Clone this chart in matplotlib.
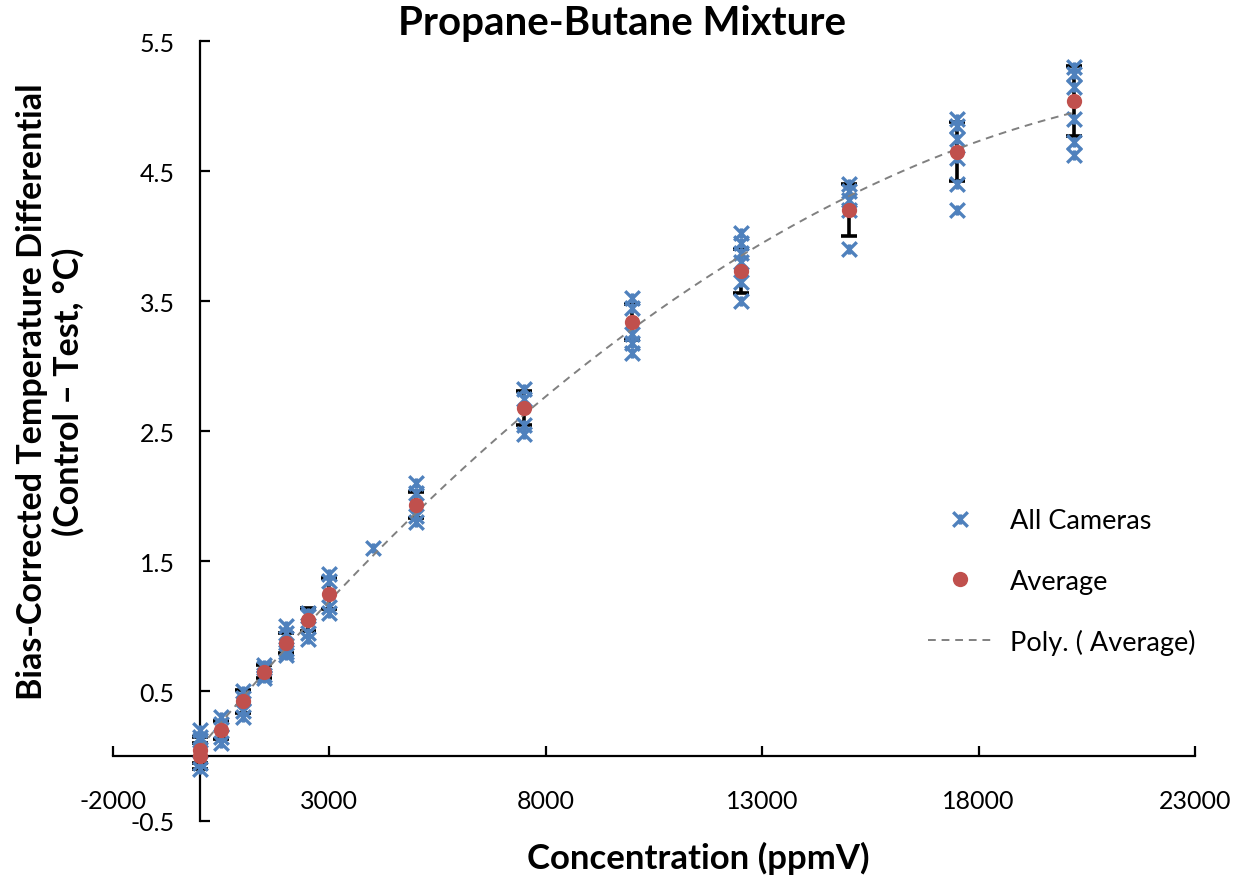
import numpy as np
import matplotlib
matplotlib.use("Agg")
import matplotlib.pyplot as plt
from matplotlib.path import Path

plt.rcParams['font.family'] = ['Lato', 'DejaVu Sans']
plt.rcParams['axes.unicode_minus'] = False

# camera readings, grouped by concentration (ppmV)
camera_conc = [0, 500, 1000, 1500, 2000, 2500, 3000, 4000, 5000,
               7500, 10000, 12500, 15000, 17500, 20200]
camera_vals = [[0.2, 0.15, 0.12, -0.05, -0.1],
               [0.3, 0.25, 0.15, 0.1],
               [0.5, 0.45, 0.35, 0.3],
               [0.7, 0.68, 0.62, 0.6],
               [1.0, 0.95, 0.82, 0.8, 0.78],
               [1.1, 1.08, 0.95, 0.9],
               [1.4, 1.35, 1.15, 1.1],
               [1.6],
               [2.1, 2.02, 1.85, 1.8],
               [2.82, 2.75, 2.55, 2.48],
               [3.52, 3.45, 3.25, 3.18, 3.1],
               [4.02, 3.95, 3.87, 3.8, 3.65, 3.5],
               [4.4, 4.35, 4.28, 4.2, 3.9],
               [4.9, 4.85, 4.75, 4.6, 4.4, 4.2],
               [5.3, 5.25, 5.15, 4.9, 4.72, 4.62]]

# averages with std dev error bars
avg_conc = [0, 0, 500, 1000, 1500, 2000, 2500, 3000, 5000,
            7500, 10000, 12500, 15000, 17500, 20200]
avg_vals = [0.05, 0.0, 0.2, 0.42, 0.65, 0.87, 1.05, 1.25, 1.93,
            2.68, 3.34, 3.73, 4.2, 4.65, 5.04]
avg_err = [0.1, 0.1, 0.07, 0.09, 0.05, 0.08, 0.09, 0.12, 0.1,
           0.13, 0.14, 0.17, 0.2, 0.23, 0.27]

x_ticks = [-2000, 3000, 8000, 13000, 18000, 23000]
y_ticks = [-0.5, 0.5, 1.5, 2.5, 3.5, 4.5, 5.5]

blue = '#4F81BD'
red = '#C0504D'

# excel style star marker: an x with a vertical bar
star = Path([(-1, -1), (1, 1), (-1, 1), (1, -1), (0, -0.7), (0, 0.7)],
            [Path.MOVETO, Path.LINETO, Path.MOVETO, Path.LINETO, Path.MOVETO, Path.LINETO])

fig = plt.figure(figsize=(12.39, 8.79), dpi=100)
ax = fig.add_axes([113/1239, 1-822/879, 1082/1239, 780/879])

cx = []
cy = []
for c, vals in zip(camera_conc, camera_vals):
    for v in vals:
        cx.append(c)
        cy.append(v)

ax.errorbar(avg_conc, avg_vals, yerr=avg_err, fmt='none', ecolor='black',
            elinewidth=2.6, capsize=6, capthick=2.6, zorder=2)
ax.plot(cx, cy, linestyle='none', marker=star, markersize=10.5, markeredgewidth=2.4,
        color=blue, label='All Cameras', zorder=3)
ax.plot(avg_conc, avg_vals, linestyle='none', marker='o', markersize=11,
        color=red, markeredgewidth=0, label='Average', zorder=4)

coef = np.polyfit(avg_conc, avg_vals, 2)
xs = np.linspace(min(avg_conc), max(avg_conc), 200)
ax.plot(xs, np.polyval(coef, xs), linestyle=(0, (4, 3)), color='#808080',
        linewidth=1.4, label='Poly. ( Average)', zorder=3)

ax.set_xlim(-2000, 23000)
ax.set_ylim(-0.5, 5.5)
ax.set_xticks(x_ticks)
ax.set_yticks(y_ticks)
ax.set_yticklabels(['-0.5', '0.5', '1.5', '2.5', '3.5', '4.5', '5.5'])

ax.spines['left'].set_position(('data', 0))
ax.spines['bottom'].set_position(('data', 0))
ax.spines['top'].set_visible(False)
ax.spines['right'].set_visible(False)
for s in ['left', 'bottom']:
    ax.spines[s].set_linewidth(1.6)

ax.tick_params(axis='x', direction='in', length=7, width=1.6, labelsize=18, pad=24)
ax.tick_params(axis='y', direction='in', length=7, width=1.6, labelsize=18, pad=18)

leg = ax.legend(loc='upper left', bbox_to_anchor=(904/1239, 1-485/879),
                bbox_transform=fig.transFigure, frameon=False, fontsize=19.5,
                handlelength=2.3, handletextpad=0.7, labelspacing=1.3)

fig.text(622/1239, 1-23/879, 'Propane-Butane Mixture', ha='center', va='center',
         fontsize=29, fontweight='bold')
fig.text(698/1239, 1-858/879, 'Concentration (ppmV)', ha='center', va='center',
         fontsize=25, fontweight='bold')
fig.text(50/1239, 1-392/879, 'Bias-Corrected Temperature Differential\n(Control \u2013 Test, \u00b0C)',
         ha='center', va='center', rotation=90, fontsize=24.5, fontweight='bold',
         linespacing=1.15, multialignment='center')

fig.savefig('out.png', dpi=100)
